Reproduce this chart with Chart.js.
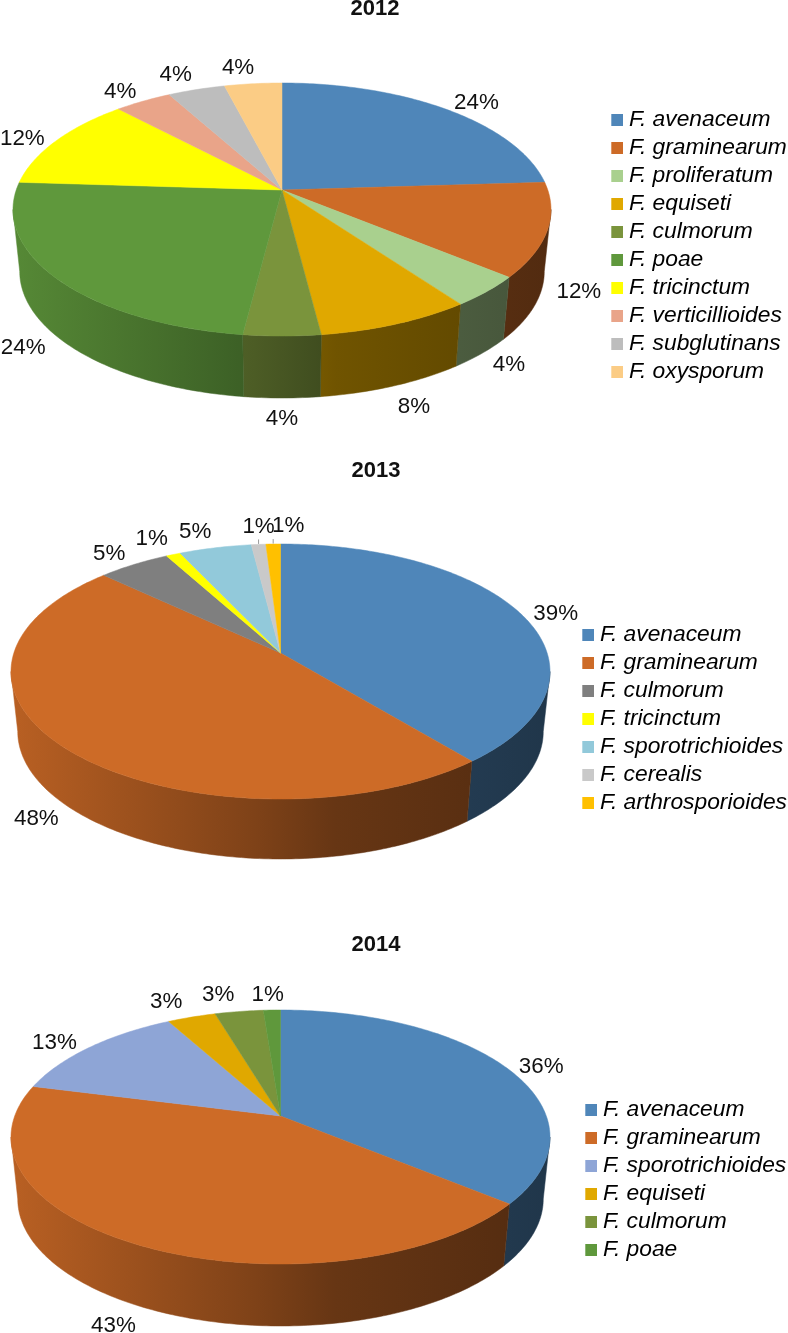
<!DOCTYPE html>
<html>
<head>
<meta charset="utf-8">
<title>Fusarium species 2012-2014</title>
<script src="https://cdn.jsdelivr.net/npm/chart.js@4/dist/chart.umd.js"></script>
<style>
  html, body { margin: 0; padding: 0; background: #fff; }
  canvas { display: block; }
</style>
</head>
<body>
<canvas id="chart2012" width="788" height="455"></canvas>
<canvas id="chart2013" width="788" height="460"></canvas>
<canvas id="chart2014" width="788" height="418"></canvas>
<script>
const species2012 = ["F. avenaceum", "F. graminearum", "F. proliferatum", "F. equiseti", "F. culmorum", "F. poae", "F. tricinctum", "F. verticillioides", "F. subglutinans", "F. oxysporum"];
const values2012 = [24, 12, 4, 8, 4, 24, 12, 4, 4, 4];
const colors2012 = ["#4f86b9", "#cd6b27", "#a9d08e", "#e0a800", "#7a943c", "#5f983c", "#ffff00", "#e9a489", "#bdbdbd", "#fbcc85"];

const species2013 = ["F. avenaceum", "F. graminearum", "F. culmorum", "F. tricinctum", "F. sporotrichioides", "F. cerealis", "F. arthrosporioides"];
const values2013 = [39, 48, 5, 1, 5, 1, 1];
const colors2013 = ["#4f86b9", "#cd6b27", "#7f7f7f", "#ffff00", "#92c9da", "#c9c9c9", "#ffc000"];

const species2014 = ["F. avenaceum", "F. graminearum", "F. sporotrichioides", "F. equiseti", "F. culmorum", "F. poae"];
const values2014 = [36, 43, 13, 3.4, 3.4, 1.2];
const colors2014 = ["#4f86b9", "#cd6b27", "#8ea5d6", "#e0a800", "#7a943c", "#5f983c"];

const FONT = '"Liberation Sans", Arial, sans-serif';
const LEGEND_PAD = 5.2;
const LEGEND_SIZE = 22.8;

// layout of each pie, in canvas pixels
const layout2012 = {
  cx: 282, apexY: 190, rx: 269, topY: 83, bottomY: 336, depth: 62,
  titleX: 375, titleY: 9, boxLeft: 611, firstRow: 120,
  nudges: [[9, 8], [1, -6], [0, -2], [6, 3], [0, 2], [-7, -4], [-5, 6], [-4, 6], [-9, 3], [-11, 3]],
  leaders: []
};
const layout2013 = {
  cx: 280.5, apexY: 198, rx: 269.5, topY: 89, bottomY: 344, depth: 60,
  titleX: 376, titleY: 15.5, boxLeft: 582, firstRow: 180,
  nudges: [[6, 8], [-5, -2], [-5, 4], [-7, 1], [-11, 2], [3, 1], [16, 1]],
  leaders: [5, 6]
};
const layout2014 = {
  cx: 280.5, apexY: 201, rx: 269.5, topY: 95, bottomY: 349, depth: 62,
  titleX: 376, titleY: 29.5, boxLeft: 585, firstRow: 195,
  nudges: [[7, 8], [-11, 2], [-10, 7], [-13, 2], [-15, 2], [-3, 4]],
  leaders: []
};

function shade(hex, m) {
  const n = parseInt(hex.slice(1), 16);
  const r = Math.round(((n >> 16) & 255) * m);
  const g = Math.round(((n >> 8) & 255) * m);
  const b = Math.round((n & 255) * m);
  return `rgb(${r}, ${g}, ${b})`;
}

// tilted circle with some perspective, angle is the arc angle from chart.js
function projector(p) {
  const t = p.apexY - p.topY;
  const b = p.bottomY - p.apexY;
  const k = (b - t) / (b + t);
  const s = t * (1 + k);
  const r = p.rx * Math.sqrt(1 - k * k);
  return {
    k,
    at(angle) {
      const u = Math.cos(angle);
      const v = Math.sin(angle);
      const w = 1 - k * v;
      return { x: p.cx + r * u / w, y: p.apexY + s * v / w, u, v };
    }
  };
}

function sweep(start, end) {
  const pts = [];
  const steps = Math.max(2, Math.ceil((end - start) / 0.015));
  for (let i = 0; i <= steps; i++) pts.push(start + (end - start) * i / steps);
  return pts;
}

function drawWall(ctx, p, proj, arc, color) {
  const front0 = Math.asin(proj.k);
  const front1 = Math.PI - front0;
  // angles from chart.js run from -PI/2 up to 3PI/2
  const start = Math.max(arc.startAngle, front0);
  const end = Math.min(arc.endAngle, front1);
  if (end <= start) return;
  const grad = ctx.createLinearGradient(p.cx - p.rx, 0, p.cx + p.rx, 0);
  grad.addColorStop(0, shade(color, 0.9));
  grad.addColorStop(0.45, shade(color, 0.62));
  grad.addColorStop(0.6, shade(color, 0.5));
  grad.addColorStop(1, shade(color, 0.4));
  const top = sweep(start, end).map((a) => proj.at(a));
  ctx.beginPath();
  top.forEach((q, i) => (i ? ctx.lineTo(q.x, q.y) : ctx.moveTo(q.x, q.y)));
  top.reverse().forEach((q) => ctx.lineTo(p.cx + (q.x - p.cx) * 0.975, q.y + p.depth));
  ctx.closePath();
  ctx.fillStyle = grad;
  ctx.strokeStyle = grad;
  ctx.lineWidth = 0.5;
  ctx.fill();
  ctx.stroke();
}

function drawTop(ctx, p, proj, arc, color) {
  ctx.beginPath();
  ctx.moveTo(p.cx, p.apexY);
  sweep(arc.startAngle, arc.endAngle).forEach((a) => {
    const q = proj.at(a);
    ctx.lineTo(q.x, q.y);
  });
  ctx.closePath();
  ctx.fillStyle = color;
  ctx.strokeStyle = color;
  ctx.lineWidth = 0.5;
  ctx.fill();
  ctx.stroke();
}

function drawLabel(ctx, p, proj, arc, value, i) {
  const mid = (arc.startAngle + arc.endAngle) / 2;
  const q = proj.at(mid);
  const nudge = p.nudges[i] || [0, 0];
  const drop = q.v > proj.k ? p.depth : 0;
  const x = q.x + 32 * q.u + nudge[0];
  const y = q.y + drop + 19 * q.v + nudge[1];
  ctx.fillStyle = "#111";
  ctx.font = `22.4px ${FONT}`;
  ctx.textAlign = "center";
  ctx.textBaseline = "middle";
  ctx.fillText(`${Math.round(value)}%`, x, y);
  if (p.leaders.includes(i)) {
    ctx.beginPath();
    ctx.moveTo(q.x, q.y - 0.5);
    ctx.lineTo(q.x, q.y - 5);
    ctx.strokeStyle = "#999";
    ctx.lineWidth = 1;
    ctx.stroke();
  }
}

const tiltedPie = {
  id: "tiltedPie",
  afterLayout(chart, args, opts) {
    const p = opts.layout;
    const title = chart.titleBlock;
    const legend = chart.legend;
    title.left = p.titleX - 100;
    title.right = p.titleX + 100;
    title.top = p.titleY - title.options.font.size * 0.6;
    const h = legend.bottom - legend.top;
    const w = legend.right - legend.left;
    legend.left = p.boxLeft + 5.5 - LEGEND_PAD;
    legend.right = legend.left + w;
    legend.top = p.firstRow - LEGEND_SIZE / 2 - LEGEND_PAD;
    legend.bottom = legend.top + h;
  },
  beforeDatasetDraw(chart, args, opts) {
    const p = opts.layout;
    const proj = projector(p);
    const ctx = chart.ctx;
    const arcs = chart.getDatasetMeta(args.index).data;
    const ds = chart.data.datasets[args.index];
    ctx.save();
    arcs.forEach((arc, i) => drawWall(ctx, p, proj, arc, ds.backgroundColor[i]));
    arcs.forEach((arc, i) => drawTop(ctx, p, proj, arc, ds.backgroundColor[i]));
    arcs.forEach((arc, i) => drawLabel(ctx, p, proj, arc, ds.data[i], i));
    ctx.restore();
    return false;
  }
};

function createPie(chartId, year, labels, values, colors, layout) {
  new Chart(document.getElementById(chartId), {
    type: "pie",
    data: {
      labels,
      datasets: [{ data: values, backgroundColor: colors }],
    },
    plugins: [tiltedPie],
    options: {
      responsive: false,
      animation: false,
      plugins: {
        tiltedPie: { layout },
        tooltip: { enabled: false },
        title: {
          display: true,
          text: year,
          color: "#111",
          padding: 0,
          font: { family: FONT, size: 22, weight: "bold" },
        },
        legend: {
          position: "right",
          align: "start",
          labels: {
            boxWidth: 1,
            boxHeight: 1,
            padding: LEGEND_PAD,
            color: "#111",
            font: { family: FONT, size: LEGEND_SIZE, style: "italic" },
            generateLabels: () => labels.map((text, i) => ({
              text,
              fillStyle: colors[i],
              strokeStyle: colors[i],
              lineWidth: 11,
              index: i,
            })),
          },
        },
      },
    },
  });
}

createPie("chart2012", "2012", species2012, values2012, colors2012, layout2012);
createPie("chart2013", "2013", species2013, values2013, colors2013, layout2013);
createPie("chart2014", "2014", species2014, values2014, colors2014, layout2014);
</script>
</body>
</html>
